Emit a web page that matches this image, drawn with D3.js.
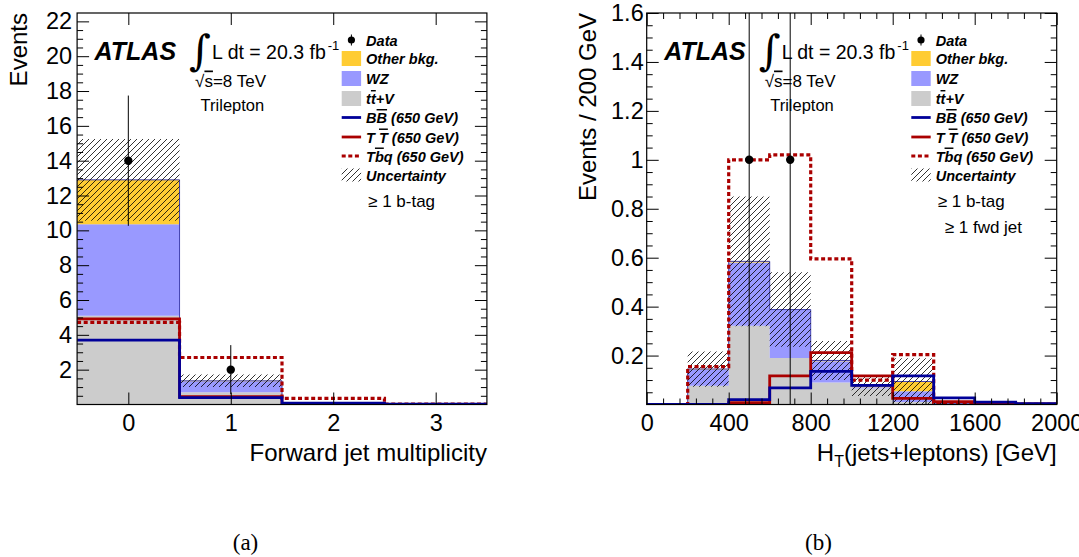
<!DOCTYPE html>
<html><head><meta charset="utf-8">
<script src="https://cdn.jsdelivr.net/npm/d3@7"></script>
<style>body{margin:0;background:#fff} svg{display:block}</style>
</head><body><svg id="c" width="1079" height="557"></svg>
<script>
// ---------------- data ----------------
const leftEdges = [-0.5, 0.5, 1.5, 2.5, 3.5];
const leftTtV   = [5.1, 0.7, 0.06, 0.01];
const leftWZ    = [5.25, 0.64, 0.03, 0.005];
const leftOther = [2.55, 0.02, 0.01, 0.0];
const leftUnc   = [2.35, 0.36, 0.03, 0.01];
const leftData  = [14, 2, 0, 0];
const leftDataErr = [3.74, 1.41, 0, 0];
const leftBB    = [3.7, 0.4, 0.08, 0.02];
const leftTT    = [4.92, 0.45, 0.06, 0.01];
const leftTbq   = [4.72, 2.7, 0.35, 0.02];
const leftXTicks = [0, 1, 2, 3];
const leftYTicks = [2, 4, 6, 8, 10, 12, 14, 16, 18, 20, 22];

const rightEdges = [0, 200, 400, 600, 800, 1000, 1200, 1400, 1600, 1800, 2000];
const rightTtV   = [0, 0.077, 0.322, 0.19, 0.09, 0.065, 0.01, 0.002, 0.001, 0];
const rightWZ    = [0, 0.066, 0.258, 0.196, 0.087, 0.005, 0.044, 0.002, 0.002, 0];
const rightOther = [0, 0.002, 0.005, 0.002, 0.003, 0.005, 0.04, 0.001, 0, 0];
const rightUnc   = [0, 0.072, 0.265, 0.152, 0.08, 0.04, 0.095, 0.004, 0.002, 0];
const rightData  = [0, 0, 1, 1, 0, 0, 0, 0, 0, 0];
const rightDataErr = [0, 0, 1, 1, 0, 0, 0, 0, 0, 0];
const rightBB    = [0, 0, 0.02, 0.068, 0.135, 0.078, 0.117, 0.027, 0.01, 0.003];
const rightTT    = [0, 0, 0.008, 0.117, 0.212, 0.117, 0.025, 0.012, 0.005, 0.002];
const rightTbq   = [0, 0.155, 1.0, 1.02, 0.595, 0.10, 0.204, 0.006, 0.002, 0.001];
const rightXTicks = [0, 400, 800, 1200, 1600, 2000];
const rightYTicks = [0.2, 0.4, 0.6, 0.8, 1, 1.2, 1.4, 1.6];

// ---------------- style ----------------
const C = {other:"#ffcc33", wz:"#9999ff", ttv:"#cccccc", bb:"#000099", tt:"#aa0000", edge:"#4040b0"};
const FONT = "'Liberation Sans', Arial, Helvetica, sans-serif";
const TICKFS = 23.5, TITLEFS = 24;

const svg = d3.select("#c");
const defs = svg.append("defs");
const pat = defs.append("pattern").attr("id","hatch").attr("patternUnits","userSpaceOnUse")
  .attr("width",6).attr("height",6);
pat.append("path").attr("d","M0,6 L6,0 M-1,1 L1,-1 M5,7 L7,5")
  .attr("stroke","#000").attr("stroke-width",0.8);

function drawPanel(o){
  const g = svg.append("g");
  const x = d3.scaleLinear().domain(o.xdom).range([o.x0, o.x1]);
  const y = d3.scaleLinear().domain(o.ydom).range([o.y1, o.y0]);
  const clipId = "clip"+o.id;
  defs.append("clipPath").attr("id",clipId).append("rect")
    .attr("x",o.x0).attr("y",o.y0).attr("width",o.x1-o.x0).attr("height",o.y1-o.y0);
  const pg = g.append("g").attr("clip-path",`url(#${clipId})`);
  const E = o.edges, n = E.length-1;
  const steps = vals => E.map((e,i)=>({x:e, v:vals[Math.min(i,n-1)]}));
  const line = d3.line().x(d=>x(d.x)).y(d=>y(Math.max(0,d.v))).curve(d3.curveStepAfter);

  // stack
  const cum1 = o.ttv.slice();
  const cum2 = o.ttv.map((v,i)=>v+o.wz[i]);
  const cum3 = cum2.map((v,i)=>v+o.other[i]);
  const layers = [[o.ttv.map(()=>0), cum1, C.ttv],[cum1, cum2, C.wz],[cum2, cum3, C.other]];
  layers.forEach(([lo,hi,col])=>{
    const pts = E.map((e,i)=>({x:e, lo:lo[Math.min(i,n-1)], hi:hi[Math.min(i,n-1)]}));
    pg.append("path").datum(pts)
      .attr("d", d3.area().x(d=>x(d.x)).y0(d=>y(d.lo)).y1(d=>y(d.hi)).curve(d3.curveStepAfter))
      .attr("fill", col).attr("stroke","none");
  });
  pg.append("path").datum(steps(cum3)).attr("d", line)
    .attr("fill","none").attr("stroke",C.edge).attr("stroke-width",1);

  // uncertainty hatch
  const up = E.map((e,i)=>{const k=Math.min(i,n-1); return {x:e, lo:Math.max(0,cum3[k]-o.unc[k]), hi:cum3[k]+o.unc[k]};});
  pg.append("path").datum(up)
    .attr("d", d3.area().x(d=>x(d.x)).y0(d=>y(d.lo)).y1(d=>y(d.hi)).curve(d3.curveStepAfter))
    .attr("fill","url(#hatch)").attr("stroke","none");

  // signals
  pg.append("path").datum(steps(o.tbq)).attr("d", line).attr("fill","none")
    .attr("stroke",C.tt).attr("stroke-width",3.2).attr("stroke-dasharray","4,2.6");
  pg.append("path").datum(steps(o.tt)).attr("d", line).attr("fill","none")
    .attr("stroke",C.tt).attr("stroke-width",2.8);
  pg.append("path").datum(steps(o.bb)).attr("d", line).attr("fill","none")
    .attr("stroke",C.bb).attr("stroke-width",2.8);

  // data
  const centers = E.slice(0,n).map((e,i)=>(e+E[i+1])/2);
  const dd = centers.map((c,i)=>({c, v:o.data[i], e:o.dataErr[i]})).filter(d=>d.v>0);
  pg.selectAll(".eb").data(dd).join("line")
    .attr("x1",d=>x(d.c)).attr("x2",d=>x(d.c))
    .attr("y1",d=>y(Math.max(0,d.v-d.e))).attr("y2",d=>y(d.v+d.e))
    .attr("stroke","#000").attr("stroke-width",1);
  pg.selectAll(".pt").data(dd).join("circle")
    .attr("cx",d=>x(d.c)).attr("cy",d=>y(d.v)).attr("r",4.2).attr("fill","#000");

  // axes (ROOT style: ticks inside, mirrored)
  const MAJ = 12, MIN = 6;
  const ax = (gen, tr)=> g.append("g").attr("transform",tr).call(gen);
  const styleAxis = sel => { sel.select(".domain").remove(); sel.selectAll("line").attr("stroke","#000"); };
  const xb = ax(d3.axisBottom(x).tickValues(o.xticks).tickSizeInner(-MAJ).tickSizeOuter(0).tickFormat(d3.format("d")), `translate(0,${o.y1})`);
  styleAxis(xb); xb.selectAll("text").attr("font-family",FONT).attr("font-size",TICKFS).attr("fill","#000").attr("dy",null).attr("y",26);
  styleAxis(ax(d3.axisTop(x).tickValues(o.xticks).tickSizeInner(-MAJ).tickSizeOuter(0).tickFormat(""), `translate(0,${o.y0})`));
  if (o.xminor.length){
    styleAxis(ax(d3.axisBottom(x).tickValues(o.xminor).tickSizeInner(-MIN).tickSizeOuter(0).tickFormat(""), `translate(0,${o.y1})`));
    styleAxis(ax(d3.axisTop(x).tickValues(o.xminor).tickSizeInner(-MIN).tickSizeOuter(0).tickFormat(""), `translate(0,${o.y0})`));
  }
  const yl = ax(d3.axisLeft(y).tickValues(o.yticks).tickSizeInner(-MAJ).tickSizeOuter(0).tickPadding(o.ypad).tickFormat(o.yfmt), `translate(${o.x0},0)`);
  styleAxis(yl); yl.selectAll("text").attr("font-family",FONT).attr("font-size",TICKFS).attr("fill","#000");
  styleAxis(ax(d3.axisRight(y).tickValues(o.yticks).tickSizeInner(-MAJ).tickSizeOuter(0).tickFormat(""), `translate(${o.x1},0)`));
  styleAxis(ax(d3.axisLeft(y).tickValues(o.yminor).tickSizeInner(-MIN).tickSizeOuter(0).tickFormat(""), `translate(${o.x0},0)`));
  styleAxis(ax(d3.axisRight(y).tickValues(o.yminor).tickSizeInner(-MIN).tickSizeOuter(0).tickFormat(""), `translate(${o.x1},0)`));

  // frame
  g.append("rect").attr("x",o.x0).attr("y",o.y0).attr("width",o.x1-o.x0).attr("height",o.y1-o.y0)
    .attr("fill","none").attr("stroke","#000").attr("stroke-width",1.2);

  // axis titles
  const xtl = g.append("text").attr("x",o.x1).attr("y",461).attr("text-anchor","end")
    .attr("font-family",FONT).attr("font-size",TITLEFS);
  o.xtitle(xtl);
  g.append("text").attr("transform",`translate(${o.ytx},${o.y0}) rotate(-90)`).attr("text-anchor","end")
    .attr("font-family",FONT).attr("font-size",TITLEFS).text(o.ytitle);

  // ATLAS label
  const X0 = o.x0;
  g.append("text").attr("x",X0+17.5).attr("y",60).attr("font-family",FONT).attr("font-size",25)
    .attr("font-weight","bold").attr("font-style","italic").text("ATLAS");
  g.append("text").attr("x",X0+112).attr("y",65).attr("font-family","'DejaVu Serif', serif").attr("font-size",42)
    .attr("font-weight","200").text("∫");
  const lum = g.append("text").attr("x",X0+135).attr("y",58.5).attr("font-family",FONT).attr("font-size",19.5);
  lum.append("tspan").text("L dt = 20.3 fb");
  lum.append("tspan").attr("font-size",13).attr("dy",-9).attr("dx",2).text("-1");
  const rs = g.append("text").attr("x",X0+118).attr("y",86.5).attr("font-family",FONT).attr("font-size",17);
  rs.append("tspan").text("√");
  rs.append("tspan").style("text-decoration","overline").text("s");
  rs.append("tspan").text("=8 TeV");
  g.append("text").attr("x",X0+123.5).attr("y",110.5).attr("font-family",FONT).attr("font-size",16.5).text("Trilepton");

  // legend
  const LX = X0+264.6, LW = 19.4, TX = X0+289;
  const rows = [40, 58.5, 78.5, 98.5, 117.5, 137, 156, 175];
  const lt = (i, parts)=>{
    const t = g.append("text").attr("x",TX).attr("y",rows[i]+5.5).attr("font-family",FONT)
      .attr("font-size",14.5).attr("font-weight","bold").attr("font-style","italic");
    parts.forEach(p=>{ const s=t.append("tspan").text(p[0]); if(p[1]) s.style("text-decoration","overline"); });
  };
  g.append("line").attr("x1",LX+LW/2).attr("x2",LX+LW/2).attr("y1",rows[0]-5.5).attr("y2",rows[0]+5.5).attr("stroke","#000");
  g.append("circle").attr("cx",LX+LW/2).attr("cy",rows[0]).attr("r",3.6).attr("fill","#000");
  lt(0,[["Data"]]);
  [[1,C.other],[2,C.wz],[3,C.ttv]].forEach(([i,col])=>{
    g.append("rect").attr("x",LX).attr("y",rows[i]-7.5).attr("width",LW).attr("height",15).attr("fill",col);
  });
  lt(1,[["Other bkg."]]); lt(2,[["WZ"]]); lt(3,[["t"],["t",1],["+V"]]);
  g.append("line").attr("x1",LX).attr("x2",LX+LW).attr("y1",rows[4]).attr("y2",rows[4]).attr("stroke",C.bb).attr("stroke-width",2.8);
  lt(4,[["B"],["B",1],[" (650 GeV)"]]);
  g.append("line").attr("x1",LX).attr("x2",LX+LW).attr("y1",rows[5]).attr("y2",rows[5]).attr("stroke",C.tt).attr("stroke-width",2.8);
  lt(5,[["T "],["T",1],[" (650 GeV)"]]);
  g.append("line").attr("x1",LX).attr("x2",LX+LW).attr("y1",rows[6]).attr("y2",rows[6]).attr("stroke",C.tt).attr("stroke-width",3.2).attr("stroke-dasharray","4,2.6");
  lt(6,[["T"],["b",1],["q (650 GeV)"]]);
  g.append("rect").attr("x",LX).attr("y",rows[7]-6.5).attr("width",LW).attr("height",13).attr("fill","url(#hatch)");
  lt(7,[["Uncertainty"]]);
  o.notes.forEach(nt=>{
    g.append("text").attr("x",X0+nt.dx).attr("y",nt.y).attr("font-family",FONT).attr("font-size",17).text(nt.t);
  });

  // caption
  g.append("text").attr("x",o.capx).attr("y",550).attr("text-anchor","middle")
    .attr("font-family","'Liberation Serif', 'DejaVu Serif', serif").attr("font-size",23).text(o.cap);
}

drawPanel({
  id:"a", x0:77.1, x1:486.9, y0:13, y1:404.5,
  xdom:[-0.5,3.5], ydom:[0,22.48], edges:leftEdges,
  ttv:leftTtV, wz:leftWZ, other:leftOther, unc:leftUnc, data:leftData, dataErr:leftDataErr,
  bb:leftBB, tt:leftTT, tbq:leftTbq,
  xticks:leftXTicks, xminor:[], yticks:leftYTicks, yminor:d3.range(0.5,22.49,0.5).filter(v=>Math.abs(v/2-Math.round(v/2))>1e-6),
  yfmt:d3.format("d"), ypad:5,
  xtitle:t=>t.text("Forward jet multiplicity"),
  ytitle:"Events", ytx:27,
  notes:[{dx:291, y:207, t:"≥ 1 b-tag"}],
  cap:"(a)", capx:245.5
});
drawPanel({
  id:"b", x0:646.7, x1:1056.7, y0:13, y1:404.5,
  xdom:[0,2000], ydom:[0,1.6], edges:rightEdges,
  ttv:rightTtV, wz:rightWZ, other:rightOther, unc:rightUnc, data:rightData, dataErr:rightDataErr,
  bb:rightBB, tt:rightTT, tbq:rightTbq,
  xticks:rightXTicks, xminor:d3.range(80,2000,80).filter(v=>v%400!==0),
  yticks:rightYTicks, yminor:d3.range(1,33).map(k=>k*0.05).filter(v=>Math.abs(v/0.2-Math.round(v/0.2))>1e-6),
  yfmt:d=>String(+d.toFixed(1)), ypad:3,
  xtitle:t=>{ t.append("tspan").text("H"); t.append("tspan").attr("font-size",16).attr("dy",6).text("T");
              t.append("tspan").attr("dy",-6).text("(jets+leptons) [GeV]"); },
  ytitle:"Events / 200 GeV", ytx:596,
  notes:[{dx:291, y:207, t:"≥ 1 b-tag"},{dx:298, y:233, t:"≥ 1 fwd jet"}],
  cap:"(b)", capx:818.5
});
</script></body></html>
